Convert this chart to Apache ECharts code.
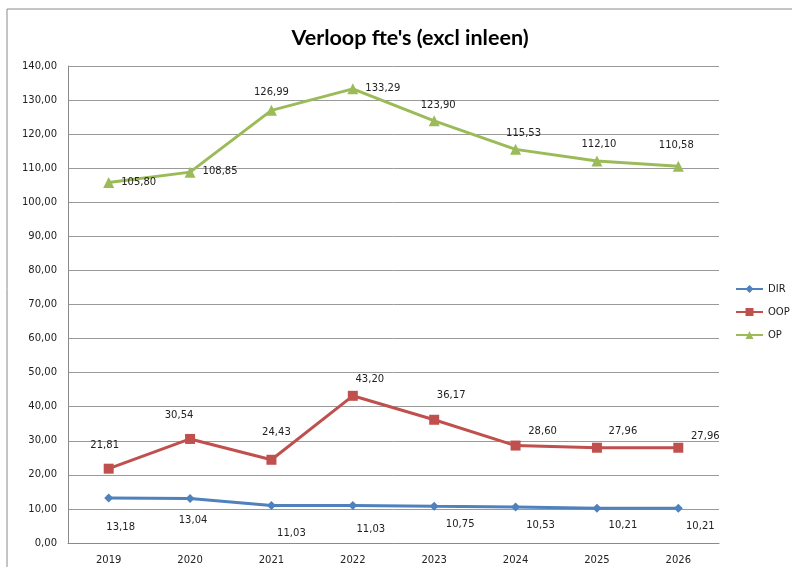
<!DOCTYPE html>
<html>
<head>
<meta charset="utf-8">
<script src="https://cdn.jsdelivr.net/npm/echarts@6/dist/echarts.min.js"></script>
<style>
  html, body { margin: 0; padding: 0; background: #fff; }
  #chart { width: 792px; height: 567px; }
</style>
</head>
<body>
<div id="chart"></div>
<script>
// data
var years = ["2019", "2020", "2021", "2022", "2023", "2024", "2025", "2026"];
var dirValues = [13.18, 13.04, 11.03, 11.03, 10.75, 10.53, 10.21, 10.21];
var oopValues = [21.81, 30.54, 24.43, 43.20, 36.17, 28.60, 27.96, 27.96];
var opValues = [105.80, 108.85, 126.99, 133.29, 123.90, 115.53, 112.10, 110.58];

// label offsets (px from the point), like Excel placed them
var dirLabelOffsets = [[12, 29], [3, 22], [20, 28], [18, 24], [26, 18], [25, 18], [26, 17], [22, 18]];
var oopLabelOffsets = [[-4, -23], [-11, -24], [5, -27], [17, -16], [17, -24], [27, -14], [26, -16], [27, -11]];
var opLabelOffsets = [[30, 0], [30, -1], [0, -18], [30, 0], [4, -15], [8, -16], [2, -17], [-2, -21]];

function fmt(v) {
  return v.toFixed(2).replace(".", ",");
}

function buildData(values, offsets) {
  var out = [];
  for (var i = 0; i < values.length; i++) {
    out.push({
      value: values[i],
      label: { offset: offsets[i] }
    });
  }
  return out;
}

function makeSeries(name, values, offsets, color, symbol, size) {
  return {
    name: name,
    type: "line",
    data: buildData(values, offsets),
    symbol: symbol,
    symbolSize: size,
    lineStyle: { color: color, width: 3 },
    itemStyle: { color: color },
    label: {
      show: true,
      position: "inside",
      color: "#222",
      fontFamily: "DejaVu Sans",
      fontSize: 10,
      formatter: function (p) { return fmt(p.value); }
    },
    emphasis: { disabled: true },
    animation: false
  };
}

var chart = echarts.init(document.getElementById("chart"));
chart.setOption({
  backgroundColor: "#fff",
  title: {
    text: "Verloop fte's (excl inleen)",
    left: 405,
    textAlign: "center",
    top: 22,
    textStyle: { fontFamily: "Lato", fontWeight: "bold", fontSize: 21.5, color: "#000" }
  },
  graphic: [{
    type: "rect",
    shape: { x: 7, y: 9, width: 800, height: 600 },
    style: { fill: "none", stroke: "#8a8a8a", lineWidth: 1 },
    silent: true
  }],
  legend: {
    orient: "vertical",
    left: 730,
    top: 279,
    itemWidth: 27,
    itemHeight: 10,
    itemGap: 13,
    textStyle: { fontFamily: "DejaVu Sans", fontSize: 10, color: "#222" },
    data: ["DIR", "OOP", "OP"]
  },
  grid: { left: 68, right: 73, top: 66, bottom: 24, containLabel: false },
  xAxis: {
    type: "category",
    data: years,
    boundaryGap: true,
    axisLine: { lineStyle: { color: "#8a8a8a", width: 1 } },
    axisTick: { show: false },
    axisLabel: { fontFamily: "DejaVu Sans", fontSize: 10, color: "#222", margin: 12 }
  },
  yAxis: {
    type: "value",
    min: 0,
    max: 140,
    interval: 10,
    axisLine: { show: true, lineStyle: { color: "#8a8a8a", width: 1 } },
    axisTick: { show: false },
    splitLine: { lineStyle: { color: "#9a9a9a", width: 1 } },
    axisLabel: {
      fontFamily: "DejaVu Sans",
      fontSize: 10,
      color: "#222",
      margin: 11,
      formatter: function (v) { return fmt(v); }
    }
  },
  series: [
    makeSeries("DIR", dirValues, dirLabelOffsets, "#4F81BD", "diamond", 9),
    makeSeries("OOP", oopValues, oopLabelOffsets, "#C0504D", "rect", 10),
    makeSeries("OP", opValues, opLabelOffsets, "#9BBB59", "triangle", 11)
  ]
});
</script>
</body>
</html>
